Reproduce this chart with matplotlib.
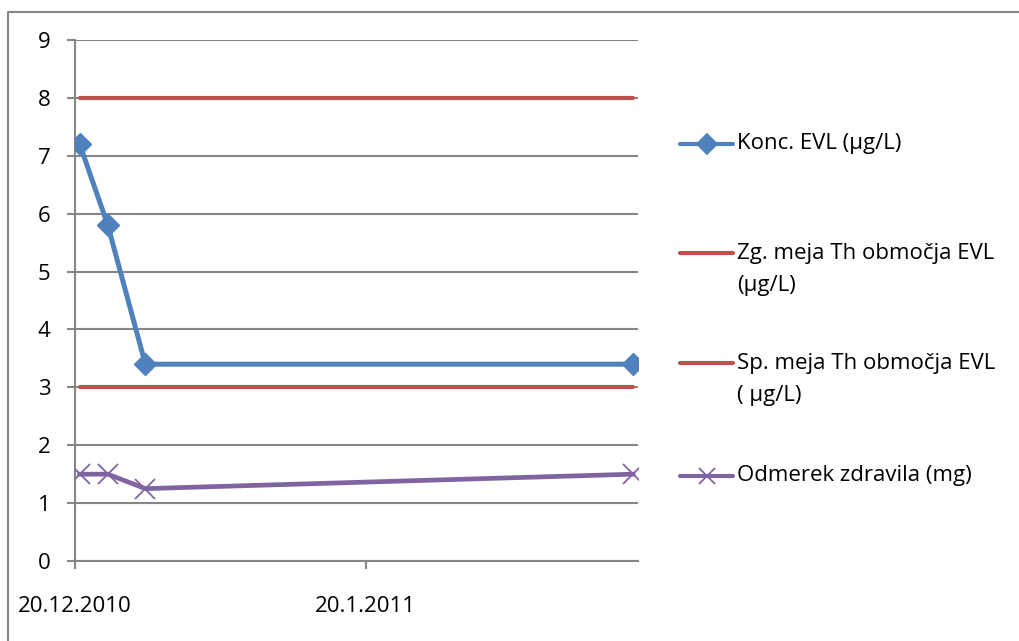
import matplotlib
matplotlib.use("Agg")
import matplotlib.pyplot as plt
from matplotlib.lines import Line2D
from datetime import datetime, timedelta

# Measurement dates and series
dates = ["20.12.2010", "23.12.2010", "27.12.2010", "17.2.2011"]
konc_evl = [7.2, 5.8, 3.4, 3.4]
zg_meja = [8, 8, 8, 8]
sp_meja = [3, 3, 3, 3]
odmerek = [1.5, 1.5, 1.25, 1.5]

series_labels = ["Konc. EVL (µg/L)", "Zg. meja Th območja EVL\n(µg/L)",
                 "Sp. meja Th območja EVL\n( µg/L)", "Odmerek zdravila (mg)"]
tick_dates = ["20.12.2010", "20.1.2011"]
axis_start, axis_end = "20.12.2010", "18.2.2011"
y_ticks = list(range(0, 10))

BLUE = "#4F81BD"
RED = "#C0504D"
PURPLE = "#8064A2"
GRID = "#868686"
FS = 16

plt.rcParams["font.family"] = ["Open Sans", "DejaVu Sans"]


def parse(d):
    return datetime.strptime(d, "%d.%m.%Y")


# points sit in the middle of their day
x = [parse(d) + timedelta(hours=12) for d in dates]

W, H = 1019, 641
fig = plt.figure(figsize=(W / 100, H / 100), dpi=100)
ax = fig.add_axes([75 / W, (H - 561) / H, (637.7 - 75) / W, (561 - 40) / H])

ax.plot(x, zg_meja, color=RED, lw=3.0, solid_capstyle="round", zorder=3)
ax.plot(x, sp_meja, color=RED, lw=3.0, solid_capstyle="round", zorder=3)
ax.plot(x, konc_evl, color=BLUE, lw=3.6, marker="D", ms=11, zorder=4)
ax.plot(x, odmerek, color=PURPLE, lw=3.4, marker="x", ms=14, mew=1.3, zorder=4)

ax.set_xlim(parse(axis_start), parse(axis_end))
ax.set_ylim(0, 9)
ax.set_yticks(y_ticks)
ax.set_xticks([parse(d) for d in tick_dates])
ax.set_xticklabels(tick_dates)

ax.grid(axis="y", color=GRID, lw=1.5)
ax.set_axisbelow(True)
for s in ["top", "right"]:
    ax.spines[s].set_visible(False)
for s in ["left", "bottom"]:
    ax.spines[s].set_color(GRID)
    ax.spines[s].set_linewidth(1.5)
ax.tick_params(axis="y", direction="out", length=5.5, width=1.5, color=GRID,
               pad=12, labelsize=FS)
ax.tick_params(axis="x", direction="out", length=5.5, width=1.5, color=GRID,
               pad=20, labelsize=FS)


# legend drawn to the right of the plot area
def fx(px):
    return px / W


def fy(py):
    return (H - py) / H


entries = [
    (BLUE, "D", 10, 144),
    (RED, None, 0, 253),
    (RED, None, 0, 363),
    (PURPLE, "x", 12, 476),
]
for (c, m, ms, yy), lab in zip(entries, series_labels):
    fig.add_artist(Line2D([fx(680), fx(733)], [fy(yy), fy(yy)], color=c, lw=3.0,
                          solid_capstyle="round", transform=fig.transFigure))
    if m:
        fig.add_artist(Line2D([fx(706.5)], [fy(yy)], color=c, marker=m, ms=ms,
                              mew=1.3, transform=fig.transFigure))
    for i, line in enumerate(lab.split("\n")):
        fig.text(fx(737), fy(yy + 33 * i), line, fontsize=FS, va="center",
                 transform=fig.transFigure)

# chart frame
fig.add_artist(Line2D([fx(8), fx(8), fx(W + 5)], [fy(H + 5), fy(12), fy(12)],
                      color=GRID, lw=1.5, transform=fig.transFigure))

fig.savefig("out.png", dpi=100)
